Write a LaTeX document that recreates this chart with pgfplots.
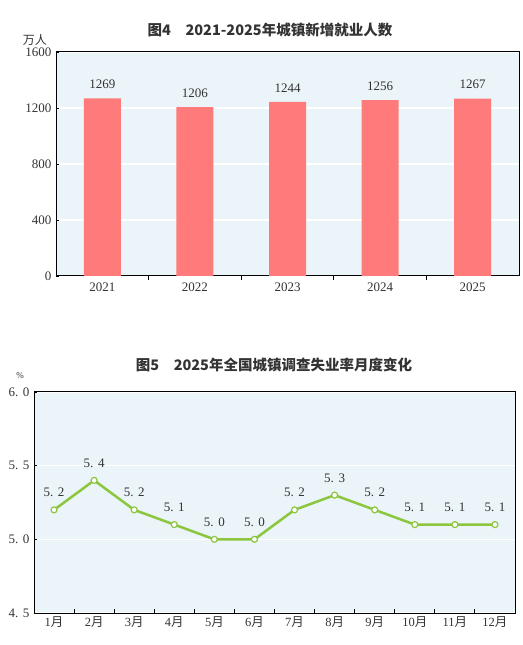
\documentclass[border=0pt]{standalone}
\usepackage{pgfplots}
\pgfplotsset{compat=1.18}
\usepackage{fontspec}
\setmainfont{Liberation Serif}
\newfontfamily\cjk{Noto Sans CJK SC}
\definecolor{bg}{HTML}{EBF4F8}
\definecolor{barc}{HTML}{FF7B7B}
\definecolor{lgreen}{HTML}{8CC63F}
\definecolor{txt}{HTML}{333333}
\newcommand\dd[2]{#1.\hspace{0.35em}#2}
\newcommand\mo[1]{#1{\cjk 月}}
\begin{document}
\begin{tikzpicture}
\useasboundingbox (0pt,0pt) rectangle (522pt,645pt);
\node[font=\cjk\bfseries\fontsize{14.5}{16}\selectfont, text=txt] at (270pt,615pt) {图4\hspace{1em}2021-2025年城镇新增就业人数};
\node[font=\cjk\fontsize{12}{13}\selectfont, text=txt] at (35pt,605pt) {万人};
\begin{axis}[at={(56pt,369pt)}, anchor=south west, scale only axis,
  width=463pt, height=224pt,
  xmin=-0.5, xmax=4.5, ymin=0, ymax=1600,
  ytick={0,400,800,1200,1600},
  xtick={0,1,2,3,4}, xticklabels={2021,2022,2023,2024,2025},
  minor xtick={0.5,1.5,2.5,3.5},
  major x tick style={draw=none},
  minor x tick style={black, line width=0.9pt},
  major y tick style={black, line width=0.9pt},
  tick align=inside, major tick length=3pt, minor tick length=4pt,
  tick pos=left,
  axis background/.style={fill=bg},
  ymajorgrids, grid style={white, line width=1.2pt},
  axis line style={black, line width=1pt},
  ticklabel style={font=\fontsize{13}{14}\selectfont, text=txt},
  /pgf/number format/assume math mode=true,
  /pgf/number format/1000 sep={},
  yticklabel style={xshift=-1pt},
  ybar, bar width=37pt,
  nodes near coords,
  every node near coord/.append style={font=\fontsize{13}{14}\selectfont, text=txt, yshift=6pt},
]
\addplot[fill=barc, draw=none] coordinates {(0,1269) (1,1206) (2,1244) (3,1256) (4,1267)};
\end{axis}

\node[font=\cjk\bfseries\fontsize{14.5}{16}\selectfont, text=txt] at (274pt,280pt) {图5\hspace{1em}2025年全国城镇调查失业率月度变化};
\node[font=\fontsize{9}{10}\selectfont, text=txt] at (20pt,269pt) {\%};
\begin{axis}[at={(34pt,32pt)}, anchor=south west, scale only axis,
  width=481pt, height=221pt,
  xmin=0.5, xmax=12.5, ymin=4.5, ymax=6.0,
  ytick={4.5,5.0,5.5,6.0},
  yticklabels={\dd45,\dd50,\dd55,\dd60},
  xtick={1,...,12},
  xticklabels={\mo1,\mo2,\mo3,\mo4,\mo5,\mo6,\mo7,\mo8,\mo9,\mo{10},\mo{11},\mo{12}},
  minor xtick={1.5,2.5,...,11.5},
  major x tick style={draw=none},
  minor x tick style={black, line width=0.9pt},
  major y tick style={black, line width=0.9pt},
  tick align=inside, major tick length=3pt, minor tick length=4pt,
  tick pos=left,
  axis background/.style={fill=bg},
  ymajorgrids, grid style={white, line width=1.2pt},
  axis line style={black, line width=1pt},
  ticklabel style={font=\fontsize{13}{14}\selectfont, text=txt},
  xticklabel style={font=\fontsize{12.5}{13}\selectfont},
  yticklabel style={xshift=-1pt},
  point meta=explicit symbolic,
  nodes near coords,
  every node near coord/.append style={font=\fontsize{13}{14}\selectfont, text=txt, yshift=9pt},
]
\addplot[lgreen, line width=2.5pt, mark=*, mark size=3pt,
  mark options={fill=white, draw=lgreen, line width=1.2pt}]
  coordinates {
  (1,5.2) [\dd52] (2,5.4) [\dd54] (3,5.2) [\dd52] (4,5.1) [\dd51]
  (5,5.0) [\dd50] (6,5.0) [\dd50] (7,5.2) [\dd52] (8,5.3) [\dd53]
  (9,5.2) [\dd52] (10,5.1) [\dd51] (11,5.1) [\dd51] (12,5.1) [\dd51]
  };
\end{axis}
\end{tikzpicture}
\end{document}
